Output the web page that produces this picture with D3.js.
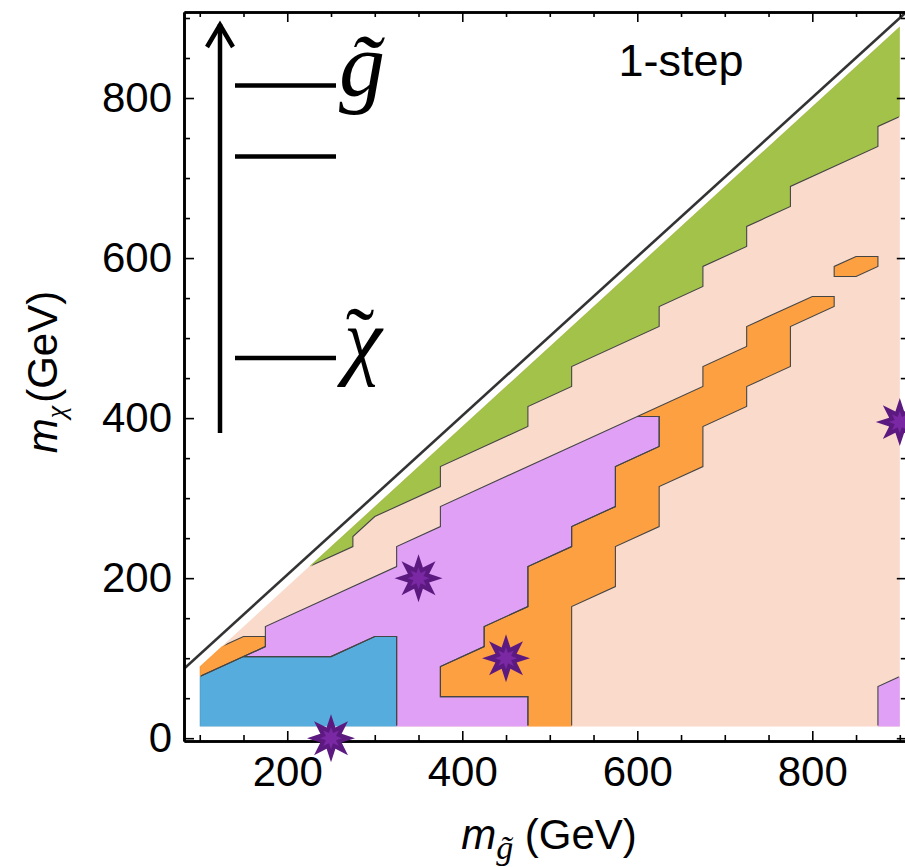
<!DOCTYPE html>
<html>
<head>
<meta charset="utf-8">
<script src="https://cdn.jsdelivr.net/npm/d3@7"></script>
<style>
  body { margin: 0; background: #fff; }
  svg { display: block; }
</style>
</head>
<body>
<div id="chart"></div>
<script>
// Contour regions, as [m_gluino, m_chi] vertices in GeV
const pinkRegion = [[100,14.5],[900,14.5],[900,889.5],[100,89.5]];
const blueRegion = [[100,14.5],[100,77],[150,102],[250,102],[300,127],[325,127],[325,14.5]];
const orangeCorner = [[100,77],[100,89.5],[125,114.5],[150,127],[175,127],[175,114.5],[150,102]];
const purpleRegion = [[325,14.5],[325,127],[300,127],[250,102],[150,102],[175,114.5],[175,139.5],
  [325,214.5],[325,239.5],[375,264.5],[375,289.5],[600,402],[625,402],[625,364.5],[575,339.5],
  [575,289.5],[525,264.5],[525,239.5],[475,214.5],[475,164.5],[425,139.5],[425,114.5],[375,89.5],
  [375,52],[475,52],[475,14.5]];
const orangeBand = [[475,14.5],[475,52],[375,52],[375,89.5],[425,114.5],[425,139.5],[475,164.5],
  [475,214.5],[525,239.5],[525,264.5],[575,289.5],[575,339.5],[625,364.5],[625,402],[600,402],
  [675,439.5],[675,464.5],[725,489.5],[725,514.5],[800,552],[825,552],[825,539.5],[775,514.5],
  [775,464.5],[725,439.5],[725,414.5],[675,389.5],[675,339.5],[625,314.5],[625,264.5],[575,239.5],
  [575,189.5],[525,164.5],[525,14.5]];
const orangeIsland = [[825,577],[825,589.5],[850,602],[875,602],[875,589.5],[850,577]];
const purpleCorner = [[875,14.5],[875,64.5],[900,77],[900,14.5]];
const greenRegion = [[225,214.5],[275,239.5],[275,252],[300,277],[375,314.5],[375,339.5],[475,389.5],
  [475,414.5],[525,439.5],[525,464.5],[625,514.5],[625,539.5],[675,564.5],[675,589.5],[725,614.5],
  [725,639.5],[775,664.5],[775,689.5],[875,739.5],[875,764.5],[900,777],[900,889.5]];

// kinematic limit line
const diagonal = [[80,84.8],[910,910]];

// benchmark points
const starX = [250, 350, 450, 900];
const starY = [0, 200, 100, 395];

// ticks
const xMajor = [200, 400, 600, 800];
const xMinor = [100,150,250,300,350,450,500,550,650,700,750,850,900];
const yMajor = [0, 200, 400, 600, 800];
const yMinor = [50,100,150,250,300,350,450,500,550,650,700,750,850,900];

const svg = d3.select("#chart")
    .append("svg")
    .attr("width", 905)
    .attr("height", 867);

const x = d3.scaleLinear().domain([82, 908]).range([184, 906.8]);
const y = d3.scaleLinear().domain([-3.5, 907.5]).range([741, 12]);

const line = d3.line().x(d => x(d[0])).y(d => y(d[1]));
const poly = pts => line(pts) + "Z";

const regions = [
    { pts: pinkRegion,   color: "#f9dacb", edge: false },
    { pts: orangeBand,   color: "#fda042", edge: true },
    { pts: purpleRegion, color: "#e0a0f5", edge: true },
    { pts: blueRegion,   color: "#56acdd", edge: true },
    { pts: orangeCorner, color: "#fda042", edge: true },
    { pts: greenRegion,  color: "#a3c24a", edge: true },
    { pts: orangeIsland, color: "#fda042", edge: true },
    { pts: purpleCorner, color: "#e0a0f5", edge: true }
];

// plot clip
const defs = svg.append("defs");
defs.append("clipPath").attr("id", "plot")
    .append("rect")
    .attr("x", x.range()[0]).attr("y", y.range()[1])
    .attr("width", x.range()[1] - x.range()[0])
    .attr("height", y.range()[0] - y.range()[1]);

// inner clip so that only the contour lines between regions get an outline
const ex0 = x(100) + 1, ex1 = x(900) - 1, eyb = y(14.5) - 1;
const topAt = px => {
    const t = (px - x(100)) / (x(900) - x(100));
    return y(89.5) + t * (y(889.5) - y(89.5)) + 1.6;
};
defs.append("clipPath").attr("id", "inner")
    .append("polygon")
    .attr("points", [[ex0, topAt(ex0)], [ex1, topAt(ex1)], [ex1, eyb], [ex0, eyb]]
        .map(p => p.join(",")).join(" "));

svg.append("g")
    .selectAll("path")
    .data(regions)
    .join("path")
    .attr("d", d => poly(d.pts))
    .attr("fill", d => d.color);

svg.append("g")
    .attr("clip-path", "url(#inner)")
    .selectAll("path")
    .data(regions.filter(r => r.edge))
    .join("path")
    .attr("d", d => poly(d.pts))
    .attr("fill", "none")
    .attr("stroke", "#454545")
    .attr("stroke-width", 1.1)
    .attr("stroke-linejoin", "miter");

// diagonal
svg.append("path")
    .attr("clip-path", "url(#plot)")
    .attr("d", line(diagonal))
    .attr("fill", "none")
    .attr("stroke", "#333")
    .attr("stroke-width", 2.6);

// Axes (frame with inward ticks)
const font = "'Liberation Sans', Arial, Helvetica, sans-serif";
const serif = "'Liberation Serif', 'Times New Roman', serif";

function frameAxis(axis, pos, ticks, size, labels, padding) {
    axis.tickValues(ticks).tickSize(-size).tickSizeOuter(0).tickPadding(padding || 3);
    if (!labels) axis.tickFormat("");
    const g = svg.append("g")
        .attr("transform", pos)
        .call(axis);
    g.select(".domain").attr("stroke", "#000").attr("stroke-width", 2.6);
    g.selectAll(".tick line").attr("stroke", "#000").attr("stroke-width", 1.6);
    g.selectAll(".tick text")
        .attr("fill", "#000")
        .attr("font-family", font)
        .attr("font-size", 42);
    return g;
}

const atBottom = `translate(0,${y.range()[0]})`;
const atTop = `translate(0,${y.range()[1]})`;
const atLeft = `translate(${x.range()[0]},0)`;
const atRight = `translate(${x.range()[1]},0)`;

frameAxis(d3.axisBottom(x), atBottom, xMinor, 6, false);
frameAxis(d3.axisBottom(x), atBottom, xMajor, 10, true, 15).selectAll(".tick text").attr("dy", "0.71em");
frameAxis(d3.axisTop(x), atTop, xMinor, 5, false);
frameAxis(d3.axisTop(x), atTop, xMajor, 10, false);
frameAxis(d3.axisLeft(y), atLeft, yMinor, 6, false);
frameAxis(d3.axisLeft(y), atLeft, yMajor, 10, true, 12);
frameAxis(d3.axisRight(y), atRight, yMinor, 6, false);
frameAxis(d3.axisRight(y), atRight, yMajor, 10, false);

// benchmark stars
function starPath(rOut, rIn) {
    const pts = [];
    for (let i = 0; i < 16; i++) {
        const a = Math.PI * i / 8 - Math.PI / 2;
        const r = i % 2 ? rIn : rOut;
        pts.push([r * Math.cos(a), r * Math.sin(a)]);
    }
    return "M" + pts.map(p => p.join(",")).join("L") + "Z";
}
const stars = svg.append("g")
    .selectAll("g")
    .data(starX.map((v, i) => [v, starY[i]]))
    .join("g")
    .attr("transform", d => `translate(${x(d[0])},${y(d[1])})`);
stars.append("path").attr("d", starPath(24, 11.5)).attr("fill", "#5c1a80");
stars.append("path").attr("d", starPath(11, 5.5)).attr("fill", "#7a28a3");

// mass spectrum inset
const inset = svg.append("g").attr("stroke", "#000").attr("stroke-width", 4.5).attr("fill", "none");
inset.append("path").attr("d", "M220,433V24");
inset.append("path").attr("d", "M207,47L220,25L233,47").attr("stroke-linejoin", "miter");
inset.append("path").attr("d", "M235,85.5H336");
inset.append("path").attr("d", "M235,156.5H336");
inset.append("path").attr("d", "M235,358H336");

svg.append("text").attr("x", 339).attr("y", 96)
    .attr("font-family", serif).attr("font-style", "italic").attr("font-size", 92)
    .text("g\u0303");
svg.append("text").attr("x", 344).attr("y", 368)
    .attr("font-family", serif).attr("font-size", 86)
    .call(t => {
        t.append("tspan").attr("font-style", "italic").text("\u03C7");
        t.append("tspan").attr("dx", -36).text("\u02DC");
    });

// panel label
svg.append("text").attr("x", 681).attr("y", 76).attr("text-anchor", "middle")
    .attr("font-family", font).attr("font-size", 45)
    .text("1-step");

// x title
svg.append("text").attr("x", 549).attr("y", 849).attr("text-anchor", "middle")
    .attr("font-family", font).attr("font-size", 42)
    .call(t => {
        t.append("tspan").attr("font-style", "italic").text("m");
        t.append("tspan").attr("font-family", serif).attr("font-style", "italic")
            .attr("font-size", 34).attr("dy", 10).text("g\u0303");
        t.append("tspan").attr("dy", -10).text(" (GeV)");
    });

// y title
svg.append("text").attr("transform", "translate(57,372) rotate(-90)")
    .attr("text-anchor", "middle")
    .attr("font-family", font).attr("font-size", 42)
    .call(t => {
        t.append("tspan").attr("font-style", "italic").text("m");
        t.append("tspan").attr("font-family", serif).attr("font-style", "italic")
            .attr("font-size", 28).attr("dy", 8).text("\u03C7");
        t.append("tspan").attr("dy", -8).attr("dx", 3).text("(GeV)");
    });
</script>
</body>
</html>
